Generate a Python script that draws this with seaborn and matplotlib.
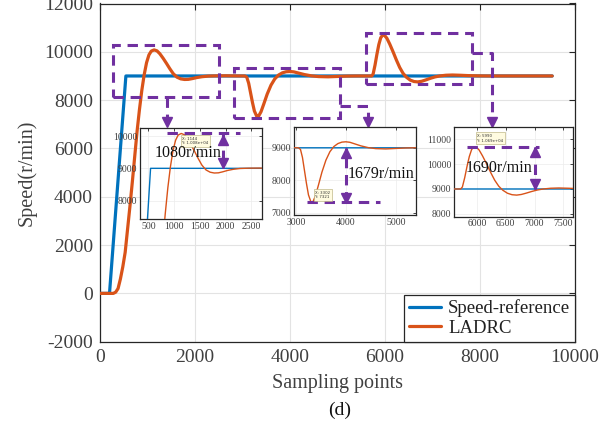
import matplotlib
matplotlib.use("Agg")
import matplotlib.pyplot as plt
import seaborn as sns
from matplotlib.patches import Rectangle

# ---------------- data ----------------
ref_x = [0, 200, 545, 9520]
ref_y = [0, 0, 9000, 9000]

ladrc_x = [0, 280, 330, 380, 430, 480, 530, 580, 630, 680, 730, 780, 830, 880,
           930, 980, 1030, 1080, 1140, 1200, 1260, 1330, 1400, 1470, 1540, 1620,
           1700, 1780, 1860, 1940, 2040, 2150, 2280, 2450, 2650, 2850, 3050,
           3090, 3130, 3170, 3210, 3250, 3300, 3340, 3390, 3450, 3520, 3600,
           3680, 3760, 3840, 3920, 4000, 4080, 4180, 4300, 4450, 4600, 4800,
           5000, 5200, 5400, 5720, 5750, 5790, 5830, 5870, 5910, 5950, 5990,
           6040, 6100, 6170, 6240, 6310, 6380, 6450, 6530, 6610, 6690, 6770,
           6850, 6950, 7050, 7150, 7280, 7420, 7580, 7750, 7950, 8200, 9520]
ladrc_y = [0, 0, 50, 200, 600, 1100, 1700, 2650, 3600, 4600, 5650, 6700, 7600,
           8400, 9050, 9550, 9870, 10030, 10080, 10040, 9920, 9730, 9520, 9300,
           9100, 8950, 8880, 8855, 8860, 8890, 8935, 8970, 8995, 9005, 9008,
           9002, 9000,
           8950, 8700, 8300, 7900, 7550, 7330, 7340, 7520, 7850, 8250, 8620,
           8880, 9040, 9130, 9175, 9185, 9170, 9120, 9060, 9005, 8975, 8965,
           8980, 8995, 9000, 9000, 9080, 9450, 9900, 10300, 10580, 10690,
           10680, 10560, 10320, 10000, 9660, 9350, 9110, 8950, 8830, 8770,
           8755, 8780, 8830, 8900, 8960, 9000, 9030, 9040, 9030, 9015, 9005,
           9000, 9000]

x_ticks = [0, 2000, 4000, 6000, 8000, 10000]
y_ticks = [-2000, 0, 2000, 4000, 6000, 8000, 10000, 12000]
series_labels = ["Speed-reference", "LADRC"]
overshoot_labels = ["1080r/min", "1679r/min", "1690r/min"]
datatip_labels = ["X: 1144\nY: 1.008e+04", "X: 3302\nY: 7321", "X: 5990\nY: 1.069e+04"]

inset1_xticks = [500, 1000, 1500, 2000, 2500]
inset1_yticks = [8000, 9000, 10000]
inset2_xticks = [3000, 4000, 5000]
inset2_yticks = [7000, 8000, 9000]
inset3_xticks = [6000, 6500, 7000, 7500]
inset3_yticks = [8000, 9000, 10000, 11000]

# ---------------- style ----------------
sns.set_theme(style="white")
plt.rcParams['font.family'] = ['Liberation Serif', 'DejaVu Serif']

BLUE = '#0072BD'
ORANGE = '#D95319'
PURPLE = '#7030A0'
SPINE = '#262626'
TXT = '#404040'
DASH = (0, (3.4, 2.2))

fig = plt.figure(figsize=(6.12, 4.23), dpi=100)
ax = fig.add_axes([100 / 612, 1 - 341.7 / 423, 475 / 612, 338.2 / 423])

sns.lineplot(x=ref_x, y=ref_y, ax=ax, color=BLUE, lw=2.3, estimator=None,
             sort=False, label=series_labels[0], zorder=3)
sns.lineplot(x=ladrc_x, y=ladrc_y, ax=ax, color=ORANGE, lw=2.3, estimator=None,
             sort=False, label=series_labels[1], zorder=4)

ax.set_xlim(0, 10000)
ax.set_ylim(-2000, 12000)
ax.set_xticks(x_ticks)
ax.set_yticks(y_ticks)
ax.set_xticklabels([str(t) for t in x_ticks])
ax.set_yticklabels([str(t) for t in y_ticks])
ax.grid(True, color='#e3e3e3', lw=0.8)
ax.tick_params(direction='in', top=True, right=True, length=4, width=0.8,
               color=SPINE, labelcolor=TXT, labelsize=14, pad=5)
for s in ax.spines.values():
    s.set_color(SPINE)
    s.set_linewidth(0.9)
ax.set_xlabel("Sampling points", fontsize=14.5, color=TXT, labelpad=6)
ax.set_ylabel("Speed(r/min)", fontsize=14.5, color=TXT, labelpad=5)

leg = ax.legend(loc='lower right', borderaxespad=0, fancybox=False,
                edgecolor=SPINE, fontsize=13.5, handlelength=1.7,
                handletextpad=0.4, labelspacing=0.15, borderpad=0.25,
                framealpha=1)
leg.get_frame().set_linewidth(0.9)
for t in leg.get_texts():
    t.set_color('#202020')

# dashed zoom rectangles and connectors on the main axes
rects = [(270, 8150, 2510, 10270), (2820, 7260, 5050, 9330), (5590, 8670, 7840, 10785)]
for (x0, y0, x1, y1) in rects:
    ax.add_patch(Rectangle((x0, y0), x1 - x0, y1 - y0, fill=False,
                           edgecolor=PURPLE, lw=2.2, linestyle=DASH, zorder=5))
connectors = [([1404, 1404], [8150, 7150]),
              ([5050, 5645, 5645], [7771, 7771, 7150]),
              ([7840, 8259, 8259], [9956, 9956, 7150])]
for cx, cy in connectors:
    ax.plot(cx, cy, color=PURPLE, lw=2.2, linestyle=DASH, zorder=5)
    ax.plot(cx[-1], 7108, marker='v', ms=7, color=PURPLE, mec=PURPLE, zorder=6)


def make_inset(rect, xlim, ylim, xt, yt):
    a = fig.add_axes(rect)
    a.set_facecolor('white')
    sns.lineplot(x=ref_x, y=ref_y, ax=a, color=BLUE, lw=1.0, estimator=None,
                 sort=False, legend=False, zorder=3)
    sns.lineplot(x=ladrc_x, y=ladrc_y, ax=a, color=ORANGE, lw=1.0,
                 estimator=None, sort=False, legend=False, zorder=4)
    a.set_xlim(*xlim)
    a.set_ylim(*ylim)
    a.set_xticks(xt)
    a.set_yticks(yt)
    a.set_xticklabels([str(t) for t in xt])
    a.set_yticklabels([str(t) for t in yt])
    a.set_xlabel("")
    a.set_ylabel("")
    a.grid(True, color='#ececec', lw=0.5)
    a.tick_params(direction='in', top=True, right=True, length=2, width=0.6,
                  color=SPINE, labelcolor=TXT, labelsize=7, pad=2)
    for s in a.spines.values():
        s.set_color(SPINE)
        s.set_linewidth(0.9)
    return a


in1 = make_inset([140 / 612, 1 - 219 / 423, 121.7 / 612, 90.7 / 423],
                 (340, 2700), (7430, 10240), inset1_xticks, inset1_yticks)
in2 = make_inset([294 / 612, 1 - 215 / 423, 121.7 / 612, 88.3 / 423],
                 (2960, 5400), (6930, 9650), inset2_xticks, inset2_yticks)
in3 = make_inset([454.3 / 612, 1 - 216.7 / 423, 118.4 / 612, 89.4 / 423],
                 (5610, 7660), (7890, 11470), inset3_xticks, inset3_yticks)

# overshoot markers inside insets: (axes, horizontal span, level, vertical x,
# reference level, upper arrow y, lower arrow y)
marks = [
    (in1, (856, 2273), 10080, 1951, 9000, 9876, 9155),
    (in2, (3214, 4680), 7321, 4000, 9000, 8852, 7452),
    (in3, (5834, 7080), 10690, 7000, 9000, 10468, 9200),
]
for a, (hx0, hx1), hy, vx, vy, up_y, dn_y in marks:
    a.plot([hx0, hx1], [hy, hy], color=PURPLE, lw=2.2, linestyle=DASH, zorder=6)
    a.plot([vx, vx], [hy, vy], color=PURPLE, lw=2.2, linestyle=DASH, zorder=6)
    a.plot(vx, up_y, marker='^', ms=6.5, color=PURPLE, zorder=7)
    a.plot(vx, dn_y, marker='v', ms=6.5, color=PURPLE, zorder=7)

# datatips
tips = [(in1, 1160, 9850), (in2, 3390, 7545), (in3, 6010, 11030)]
for (a, tx, ty), lab in zip(tips, datatip_labels):
    a.text(tx, ty, lab, fontsize=2.8, color='#333333', va='center', ha='left',
           zorder=8, family='DejaVu Sans',
           bbox=dict(boxstyle='square,pad=0.4', fc='#fffbe0', ec='#b0a870', lw=0.4))

# overshoot labels
label_pos = [(155, 152.5), (347.3, 174), (465.7, 167.5)]
for (px, py), lab in zip(label_pos, overshoot_labels):
    fig.text(px / 612, 1 - py / 423, lab, fontsize=11.5, color='#111111',
             ha='left', va='center')

fig.text(340 / 612, 1 - 410 / 423, "(d)", fontsize=14, color='#111111',
         ha='center', va='center')

fig.savefig("out.png", dpi=100)
